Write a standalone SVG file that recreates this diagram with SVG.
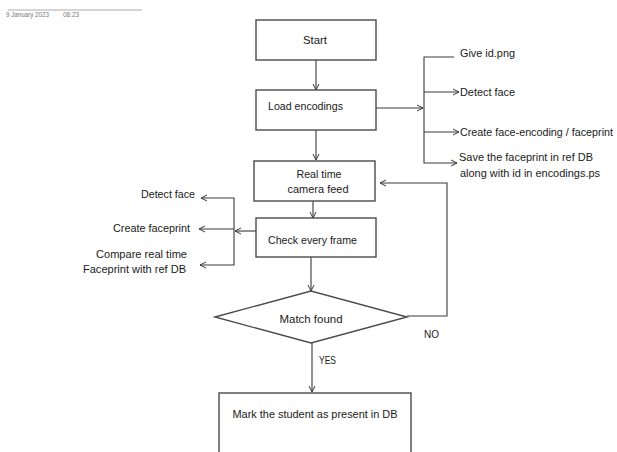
<svg xmlns="http://www.w3.org/2000/svg" width="617" height="452" viewBox="0 0 617 452">
<style>
.box{fill:#fff;stroke:#4a4a4a;stroke-width:1.4}
.ln{fill:none;stroke:#3a3a3a;stroke-width:1.1}
.t{font-family:"Liberation Sans","DejaVu Sans",sans-serif;font-size:11.5px;fill:#1a1a1a}
.m{text-anchor:middle}
.e{text-anchor:end}
.hd{font-family:"Liberation Sans",sans-serif;font-size:6.5px;fill:#777}
</style>
<defs>
<marker id="ah" markerWidth="8" markerHeight="8" refX="7" refY="4" orient="auto" markerUnits="userSpaceOnUse">
<path d="M1,1 L7,4 L1,7" fill="none" stroke="#3a3a3a" stroke-width="1"/>
</marker>
</defs>
<rect width="617" height="452" fill="#fff"/>
<g id="header">
<line x1="8" y1="10" x2="142" y2="10" stroke="#aaa" stroke-width="1"/>
<text class="hd" x="6" y="17" textLength="43" lengthAdjust="spacingAndGlyphs">9 January 2023</text>
<text class="hd" x="63" y="17" textLength="16" lengthAdjust="spacingAndGlyphs">08:23</text>
</g>
<g id="connectors">
<line class="ln" x1="316" y1="60" x2="316" y2="90" marker-end="url(#ah)"/>
<line class="ln" x1="316" y1="130" x2="316" y2="160" marker-end="url(#ah)"/>
<line class="ln" x1="313" y1="201" x2="313" y2="218" marker-end="url(#ah)"/>
<line class="ln" x1="311" y1="257" x2="311" y2="291" marker-end="url(#ah)"/>
<line class="ln" x1="312" y1="343" x2="312" y2="392" marker-end="url(#ah)"/>
<line class="ln" x1="376" y1="108" x2="423" y2="108" marker-end="url(#ah)"/>
<polyline class="ln" points="454,57 424,57 424,163 457,163" marker-end="url(#ah)"/>
<line class="ln" x1="424" y1="92" x2="459" y2="92" marker-end="url(#ah)"/>
<line class="ln" x1="424" y1="132" x2="459" y2="132" marker-end="url(#ah)"/>
<polyline class="ln" points="407,316 447,316 447,183 380,183" marker-end="url(#ah)"/>
<line class="ln" x1="256" y1="231" x2="235" y2="231" marker-end="url(#ah)"/>
<polyline class="ln" points="234,229 234,198 201,198" marker-end="url(#ah)"/>
<line class="ln" x1="234" y1="229" x2="199" y2="229" marker-end="url(#ah)"/>
<polyline class="ln" points="234,229 234,265 200,265" marker-end="url(#ah)"/>
</g>
<g id="start">
<rect class="box" x="256" y="20" width="120" height="40"/>
<text class="t m" x="315" y="44" textLength="24" lengthAdjust="spacingAndGlyphs">Start</text>
</g>
<g id="load">
<rect class="box" x="256" y="90" width="120" height="40"/>
<text class="t" x="268" y="110" textLength="75" lengthAdjust="spacingAndGlyphs">Load encodings</text>
</g>
<g id="realtime">
<rect class="box" x="254" y="161" width="121" height="40"/>
<text class="t m" x="319" y="178" textLength="45" lengthAdjust="spacingAndGlyphs">Real time</text>
<text class="t m" x="318" y="193" textLength="61" lengthAdjust="spacingAndGlyphs">camera feed</text>
</g>
<g id="check">
<rect class="box" x="256" y="218" width="120" height="39"/>
<text class="t" x="268" y="244" textLength="89" lengthAdjust="spacingAndGlyphs">Check every frame</text>
</g>
<g id="match">
<polygon class="box" points="215,317 311,291 407,317 311,343"/>
<text class="t m" x="311" y="323" textLength="63" lengthAdjust="spacingAndGlyphs">Match found</text>
</g>
<g id="mark">
<rect class="box" x="219" y="393" width="192" height="70"/>
<text class="t m" x="315" y="418" textLength="165" lengthAdjust="spacingAndGlyphs">Mark the student as present in DB</text>
</g>
<g id="labels">
<text class="t" x="424" y="338" textLength="15" lengthAdjust="spacingAndGlyphs">NO</text>
<text class="t" x="319" y="364" textLength="17" lengthAdjust="spacingAndGlyphs">YES</text>
</g>
<g id="steps-right">
<text class="t" x="460" y="57" textLength="55" lengthAdjust="spacingAndGlyphs">Give id.png</text>
<text class="t" x="460" y="96" textLength="55" lengthAdjust="spacingAndGlyphs">Detect face</text>
<text class="t" x="460" y="136" style="font-size:10.5px" textLength="153" lengthAdjust="spacingAndGlyphs">Create face-encoding / faceprint</text>
<text class="t" x="459" y="161" textLength="134" lengthAdjust="spacingAndGlyphs">Save the faceprint in ref DB</text>
<text class="t" x="460" y="177" textLength="140" lengthAdjust="spacingAndGlyphs">along with id in encodings.ps</text>
</g>
<g id="steps-left">
<text class="t e" x="195" y="198" textLength="54" lengthAdjust="spacingAndGlyphs">Detect face</text>
<text class="t e" x="190" y="232" textLength="77" lengthAdjust="spacingAndGlyphs">Create faceprint</text>
<text class="t e" x="187" y="258" textLength="91" lengthAdjust="spacingAndGlyphs">Compare real time</text>
<text class="t e" x="186" y="273" textLength="103" lengthAdjust="spacingAndGlyphs">Faceprint with ref DB</text>
</g>
</svg>
